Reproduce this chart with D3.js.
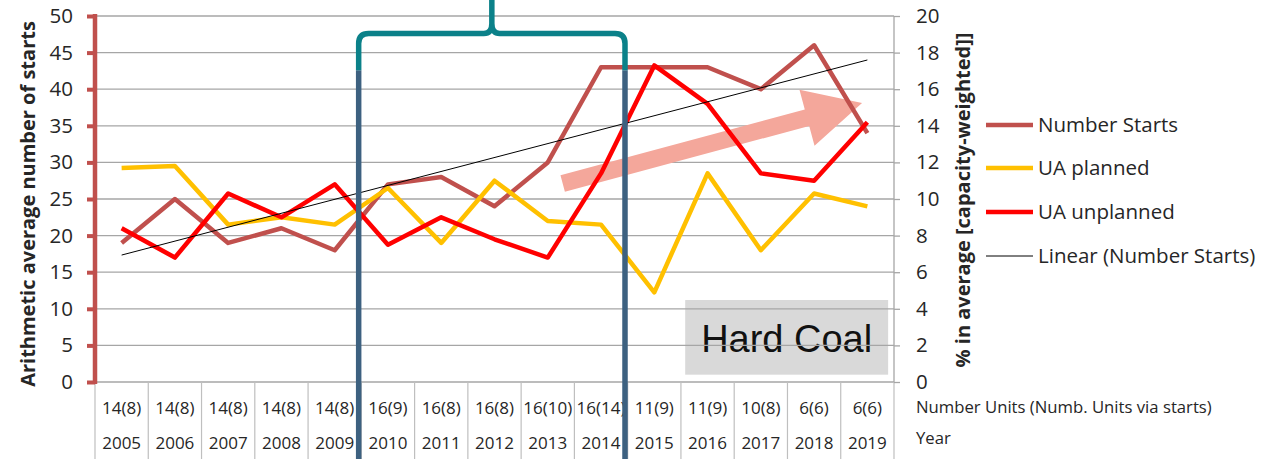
<!DOCTYPE html>
<html>
<head>
<meta charset="utf-8">
<script src="https://cdn.jsdelivr.net/npm/d3@7"></script>
<style>
  body { margin: 0; background: #fff; }
  svg text { font-family: "Open Sans", Lato, sans-serif; fill: #262626; }
</style>
</head>
<body>
<svg id="chart" width="1263" height="459"></svg>
<script>
// ---- data ----
const years = ["2005","2006","2007","2008","2009","2010","2011","2012","2013","2014","2015","2016","2017","2018","2019"];
const units = ["14(8)","14(8)","14(8)","14(8)","14(8)","16(9)","16(8)","16(8)","16(10)","16(14)","11(9)","11(9)","10(8)","6(6)","6(6)"];
const numberStarts = [19, 25, 19, 21, 18, 27, 28, 24, 30, 43, 43, 43, 40, 46, 34];
const uaPlanned   = [11.7, 11.8, 8.6, 9.0, 8.6, 10.6, 7.6, 11.0, 8.8, 8.6, 4.9, 11.4, 7.2, 10.3, 9.6];
const uaUnplanned = [8.4, 6.8, 10.3, 9.0, 10.8, 7.5, 9.0, 7.8, 6.8, 11.4, 17.3, 15.2, 11.4, 11.0, 14.2];
const leftTicks  = [0, 5, 10, 15, 20, 25, 30, 35, 40, 45, 50];
const rightTicks = [0, 2, 4, 6, 8, 10, 12, 14, 16, 18, 20];
const legendItems = ["Number Starts", "UA planned", "UA unplanned", "Linear (Number Starts)"];

// ---- layout ----
const svg = d3.select("#chart");
const X0 = 95, X1 = 894, Y0 = 382, Y1 = 16, H = 459;

const x = d3.scaleBand().domain(years).range([X0, X1]);
const xc = d => x(d) + x.bandwidth() / 2;
const xLin = d3.scaleLinear().domain([0, years.length]).range([X0, X1]);
const yL = d3.scaleLinear().domain([0, 50]).range([Y0, Y1]);
const yR = d3.scaleLinear().domain([0, 20]).range([Y0, Y1]);

const colors = { starts: "#C0504D", planned: "#FFC000", unplanned: "#FF0000", trend: "#000000" };

// "Hard Coal" label box (sits beneath the gridlines)
const box = { i0: 11.08, i1: 14.89, v0: 1.0, v1: 11.2 };
svg.append("rect")
  .attr("x", xLin(box.i0)).attr("y", yL(box.v1))
  .attr("width", xLin(box.i1) - xLin(box.i0)).attr("height", yL(box.v0) - yL(box.v1))
  .attr("fill", "#D9D9D9");
svg.append("text")
  .attr("x", (xLin(box.i0) + xLin(box.i1)) / 2).attr("y", yL(4.1))
  .attr("text-anchor", "middle")
  .style("font-family", "'Liberation Sans', Arial, sans-serif")
  .style("font-size", "38px").style("fill", "#111")
  .text("Hard Coal");

// gridlines
svg.append("g").selectAll("line").data(leftTicks.filter(t => t > 0)).join("line")
  .attr("x1", X0).attr("x2", X1).attr("y1", d => yL(d)).attr("y2", d => yL(d))
  .attr("stroke", "#A6A6A6").attr("stroke-width", 1.3);

// x-axis baseline and category table
svg.append("line").attr("x1", X0).attr("x2", X1).attr("y1", Y0).attr("y2", Y0)
  .attr("stroke", "#A6A6A6").attr("stroke-width", 1.3);
svg.append("g").selectAll("line").data(d3.range(years.length + 1)).join("line")
  .attr("x1", d => xLin(d)).attr("x2", d => xLin(d)).attr("y1", Y0).attr("y2", H)
  .attr("stroke", "#BFBFBF").attr("stroke-width", 1.2);
svg.append("g").selectAll("text").data(units).join("text")
  .attr("x", (d, i) => xc(years[i])).attr("y", 414)
  .attr("text-anchor", "middle").style("font-size", "17px").text(d => d);
svg.append("g").selectAll("text").data(years).join("text")
  .attr("x", d => xc(d)).attr("y", 449)
  .attr("text-anchor", "middle").style("font-size", "17px").text(d => d);
svg.append("text").attr("x", 916).attr("y", 413).style("font-size", "16.7px")
  .text("Number Units (Numb. Units via starts)");
svg.append("text").attr("x", 916).attr("y", 444).style("font-size", "16.7px").text("Year");

// left axis
const gL = svg.append("g").attr("transform", `translate(${X0},0)`)
  .call(d3.axisLeft(yL).tickValues(leftTicks).tickSize(8).tickPadding(14));
gL.select(".domain").attr("stroke", colors.starts).attr("stroke-width", 4.5)
  .attr("d", `M0,${Y1 - 2}V${Y0 + 2}`);
gL.selectAll(".tick line").attr("stroke", colors.starts).attr("stroke-width", 4);
gL.selectAll(".tick text").style("font-size", "20.5px").style("fill", "#262626");

// right axis
const gR = svg.append("g").attr("transform", `translate(${X1},0)`)
  .call(d3.axisRight(yR).tickValues(rightTicks).tickSize(6).tickPadding(16));
gR.select(".domain").attr("stroke", "#A6A6A6").attr("stroke-width", 1.3)
  .attr("d", `M0,${Y1}V${Y0}`);
gR.selectAll(".tick line").attr("stroke", "#A6A6A6").attr("stroke-width", 1.3);
gR.selectAll(".tick text").style("font-size", "20.5px").style("fill", "#262626");

// axis titles
svg.append("text")
  .attr("transform", `translate(35,${(Y0 + Y1) / 2 + 5}) rotate(-90)`)
  .attr("text-anchor", "middle").style("font-size", "20px").style("font-weight", "bold")
  .text("Arithmetic average number of starts");
svg.append("text")
  .attr("transform", `translate(970,${(Y0 + Y1) / 2 + 1}) rotate(-90)`)
  .attr("text-anchor", "middle").style("font-size", "20px").style("font-weight", "bold")
  .text("% in average [capacity-weighted]]");

// trend arrow (drawn in right-axis value space)
const arrowTail = [8.78, 10.85], arrowTip = [14.4, 15.25];
{
  const tx = xLin(arrowTail[0]), ty = yR(arrowTail[1]);
  const px = xLin(arrowTip[0]), py = yR(arrowTip[1]);
  const len = Math.hypot(px - tx, py - ty);
  const ang = Math.atan2(py - ty, px - tx) * 180 / Math.PI;
  const sw = 8.5, hw = 29, hl = 57;
  const pts = [[0, -sw], [len - hl, -sw], [len - hl, -hw], [len, 0], [len - hl, hw], [len - hl, sw], [0, sw]];
  svg.append("polygon")
    .attr("points", pts.map(p => p.join(",")).join(" "))
    .attr("transform", `translate(${tx},${ty}) rotate(${ang})`)
    .attr("fill", "#F4A79B");
}

// series lines
const lineL = d3.line().x((d, i) => xc(years[i])).y(d => yL(d));
const lineR = d3.line().x((d, i) => xc(years[i])).y(d => yR(d));
svg.append("path").datum(numberStarts).attr("d", lineL)
  .attr("fill", "none").attr("stroke", colors.starts).attr("stroke-width", 4.5)
  .attr("stroke-linejoin", "round");
svg.append("path").datum(uaPlanned).attr("d", lineR)
  .attr("fill", "none").attr("stroke", colors.planned).attr("stroke-width", 4.5)
  .attr("stroke-linejoin", "round");
svg.append("path").datum(uaUnplanned).attr("d", lineR)
  .attr("fill", "none").attr("stroke", colors.unplanned).attr("stroke-width", 4.5)
  .attr("stroke-linejoin", "round");

// least-squares trend of number of starts
{
  const n = numberStarts.length;
  const mx = d3.mean(d3.range(n)), my = d3.mean(numberStarts);
  const sxy = d3.sum(numberStarts, (v, i) => (i - mx) * (v - my));
  const sxx = d3.sum(d3.range(n), i => (i - mx) ** 2);
  const slope = sxy / sxx, icpt = my - slope * mx;
  svg.append("line")
    .attr("x1", xc(years[0])).attr("y1", yL(icpt))
    .attr("x2", xc(years[n - 1])).attr("y2", yL(icpt + slope * (n - 1)))
    .attr("stroke", colors.trend).attr("stroke-width", 1);
}

// period bracket 2010–2014
{
  const l = xLin(4.95), r = xLin(9.95), m = (l + r) / 2;
  const yJoin = yL(42.6), yBar = yL(47.6), rad = 10;
  svg.append("g").selectAll("line").data([l, r]).join("line")
    .attr("x1", d => d).attr("x2", d => d).attr("y1", yJoin).attr("y2", H)
    .attr("stroke", "#3D6180").attr("stroke-width", 5.5);
  const p = d3.path();
  p.moveTo(l, yJoin); p.lineTo(l, yBar + rad); p.quadraticCurveTo(l, yBar, l + rad, yBar);
  p.lineTo(m - 8, yBar); p.quadraticCurveTo(m, yBar, m, yBar - 10); p.lineTo(m, 0);
  p.moveTo(m, yBar - 10); p.quadraticCurveTo(m, yBar, m + 8, yBar);
  p.lineTo(r - rad, yBar); p.quadraticCurveTo(r, yBar, r, yBar + rad); p.lineTo(r, yJoin);
  svg.append("path").attr("d", p.toString()).attr("fill", "none")
    .attr("stroke", "#0B8189").attr("stroke-width", 5.5).attr("stroke-linejoin", "round");
}

// legend
const legendColors = [colors.starts, colors.planned, colors.unplanned, colors.trend];
const legendWidths = [4.5, 4.5, 4.5, 1];
const legendY = [125, 168, 212, 256];
const lg = svg.append("g");
legendItems.forEach((name, i) => {
  lg.append("line").attr("x1", 986).attr("x2", 1033).attr("y1", legendY[i]).attr("y2", legendY[i])
    .attr("stroke", legendColors[i]).attr("stroke-width", legendWidths[i]);
  lg.append("text").attr("x", 1038).attr("y", legendY[i] + 7)
    .style("font-size", "20.5px").text(name);
});
</script>
</body>
</html>
